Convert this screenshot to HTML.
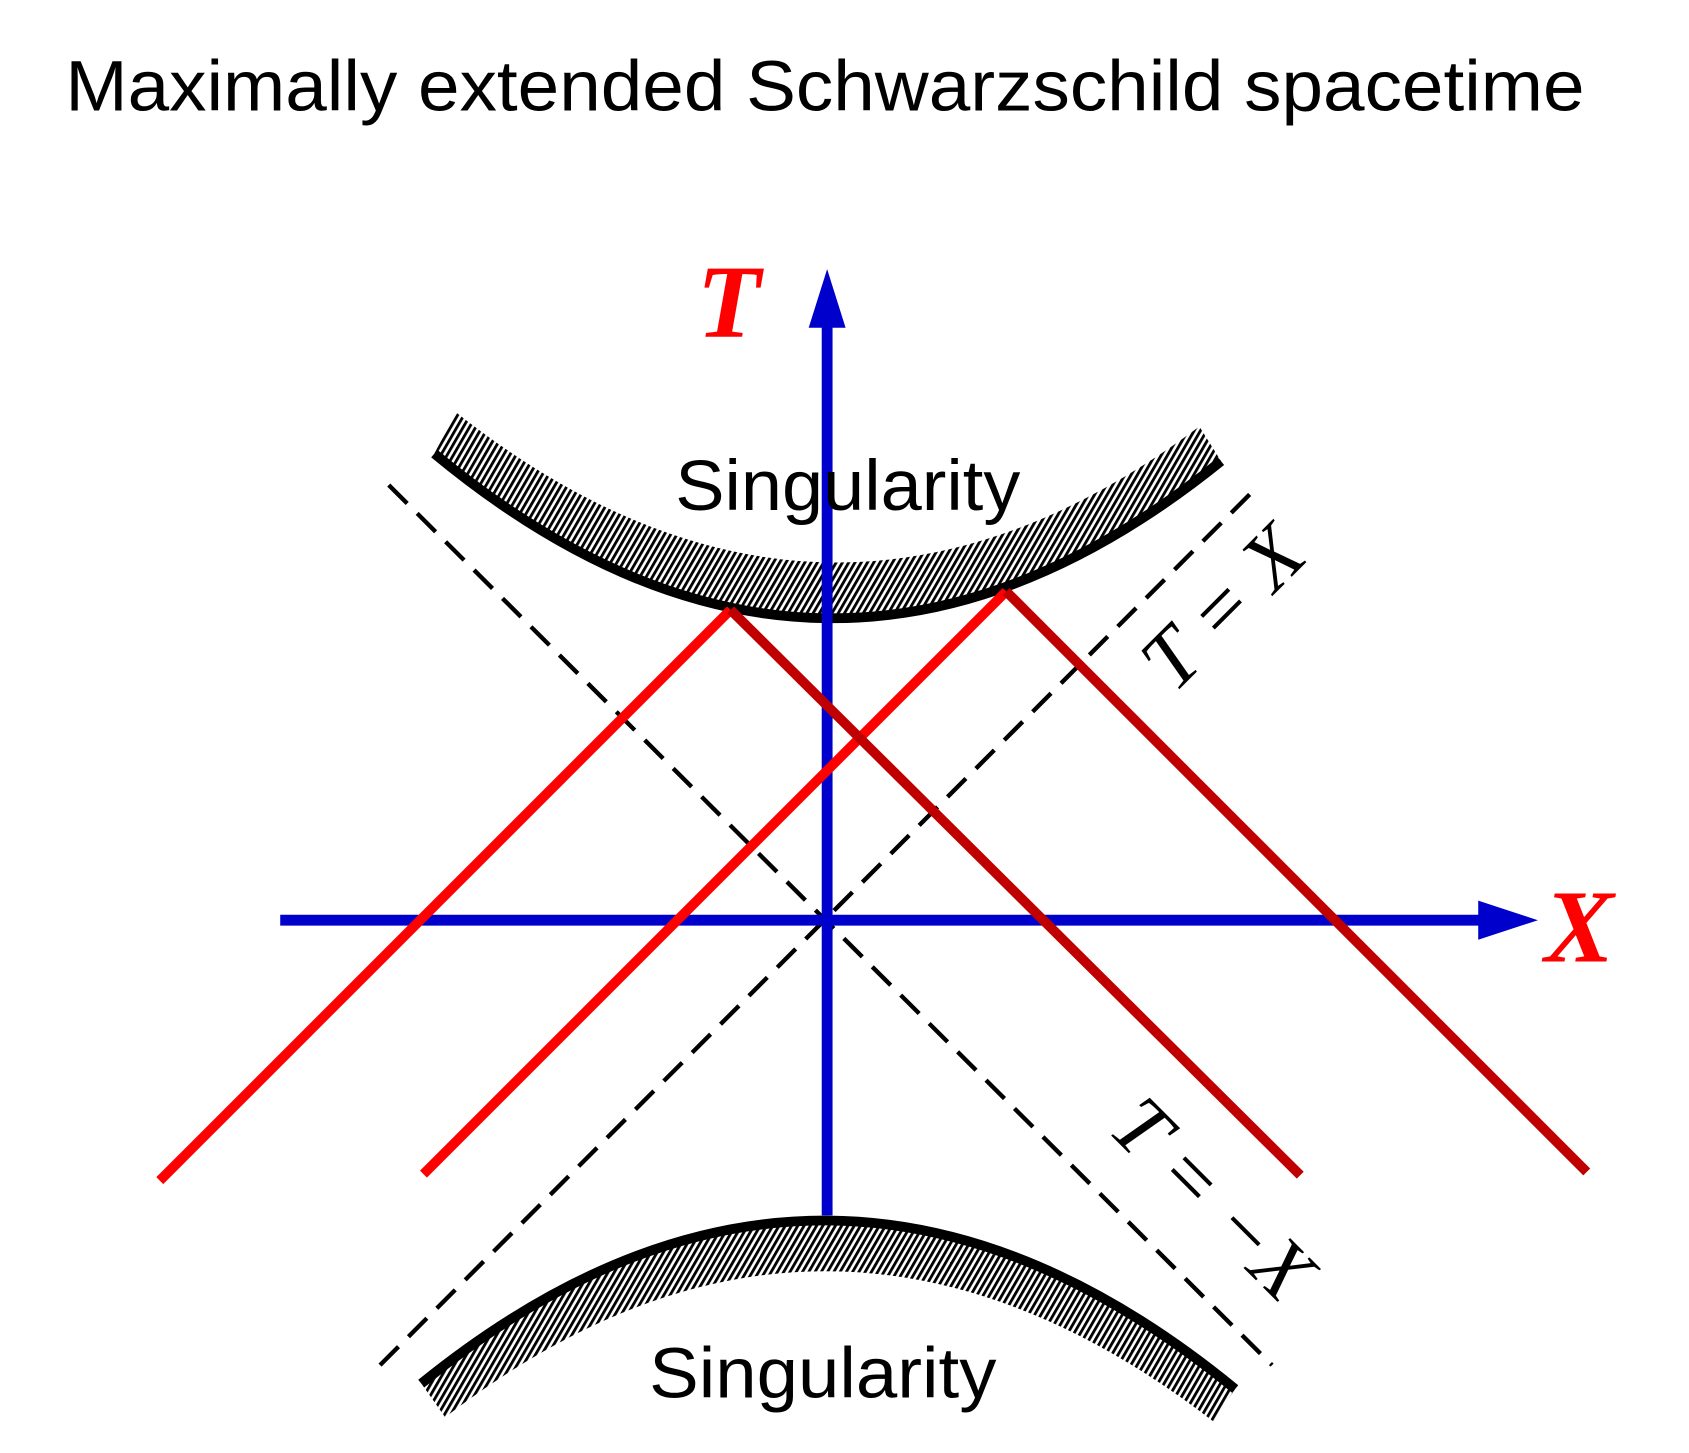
<!DOCTYPE html>
<html><head><style>html,body{margin:0;padding:0;background:#fff}svg{display:block}</style></head>
<body>
<svg width="1689" height="1453" viewBox="0 0 1556 1339" xmlns="http://www.w3.org/2000/svg">
<defs>
<pattern id="h" width="5" height="5" patternUnits="userSpaceOnUse" patternTransform="rotate(30)">
<rect width="5" height="5" fill="#fff"/><rect width="2.6" height="5" fill="#000"/>
</pattern>
</defs>
<text x="60" y="102" textLength="1400" lengthAdjust="spacingAndGlyphs" font-family="Liberation Sans, sans-serif" font-size="66" fill="#000">Maximally extended Schwarzschild spacetime</text>
<path d="M400,418 Q762,718 1125,425 L1105,393 Q762,650 420,380 Z" fill="url(#h)"/>
<path d="M400,418 Q762,718 1125,425" fill="none" stroke="#000" stroke-width="9"/>
<path d="M388,1275 Q762,972 1138,1280 L1118,1310 Q762,1035 410,1306 Z" fill="url(#h)"/>
<path d="M388,1275 Q762,972 1138,1280" fill="none" stroke="#000" stroke-width="9"/>
<line x1="358" y1="447" x2="1172" y2="1258" stroke="#000" stroke-width="4" stroke-dasharray="24,13"/>
<line x1="350" y1="1258" x2="1160" y2="447" stroke="#000" stroke-width="4" stroke-dasharray="24,13"/>
<line x1="762" y1="1120" x2="762" y2="295" stroke="#0000cc" stroke-width="10"/>
<polygon points="762,248 745,302 779,302" fill="#0000cc"/>
<line x1="258" y1="848" x2="1370" y2="848" stroke="#0000cc" stroke-width="10"/>
<polygon points="1417,848 1362,830 1362,866" fill="#0000cc"/>
<line x1="147" y1="1088" x2="673" y2="562" stroke="#ff0000" stroke-width="9"/>
<line x1="390" y1="1082" x2="927" y2="545" stroke="#ff0000" stroke-width="9"/>
<line x1="673" y1="562" x2="1198" y2="1083" stroke="#c00000" stroke-width="9"/>
<line x1="927" y1="545" x2="1462" y2="1080" stroke="#c00000" stroke-width="9"/>
<text x="642" y="310" font-family="Liberation Serif, serif" font-style="italic" font-weight="bold" font-size="96" fill="#ff0000">T</text>
<text x="1423" y="886" font-family="Liberation Serif, serif" font-style="italic" font-weight="bold" font-size="96" fill="#ff0000">X</text>
<text x="622" y="470" textLength="318" lengthAdjust="spacingAndGlyphs" font-family="Liberation Sans, sans-serif" font-size="66" fill="#000">Singularity</text>
<text x="598" y="1288" textLength="320" lengthAdjust="spacingAndGlyphs" font-family="Liberation Sans, sans-serif" font-size="66" fill="#000">Singularity</text>
<text transform="translate(1132,565) rotate(-45)" text-anchor="middle" dominant-baseline="middle" font-family="Liberation Serif, serif" font-style="italic" font-size="76" fill="#000">T = X</text>
<text transform="translate(1112,1110) rotate(45)" text-anchor="middle" dominant-baseline="middle" font-family="Liberation Serif, serif" font-style="italic" font-size="76" fill="#000">T = −X</text>
</svg>
</body></html>
